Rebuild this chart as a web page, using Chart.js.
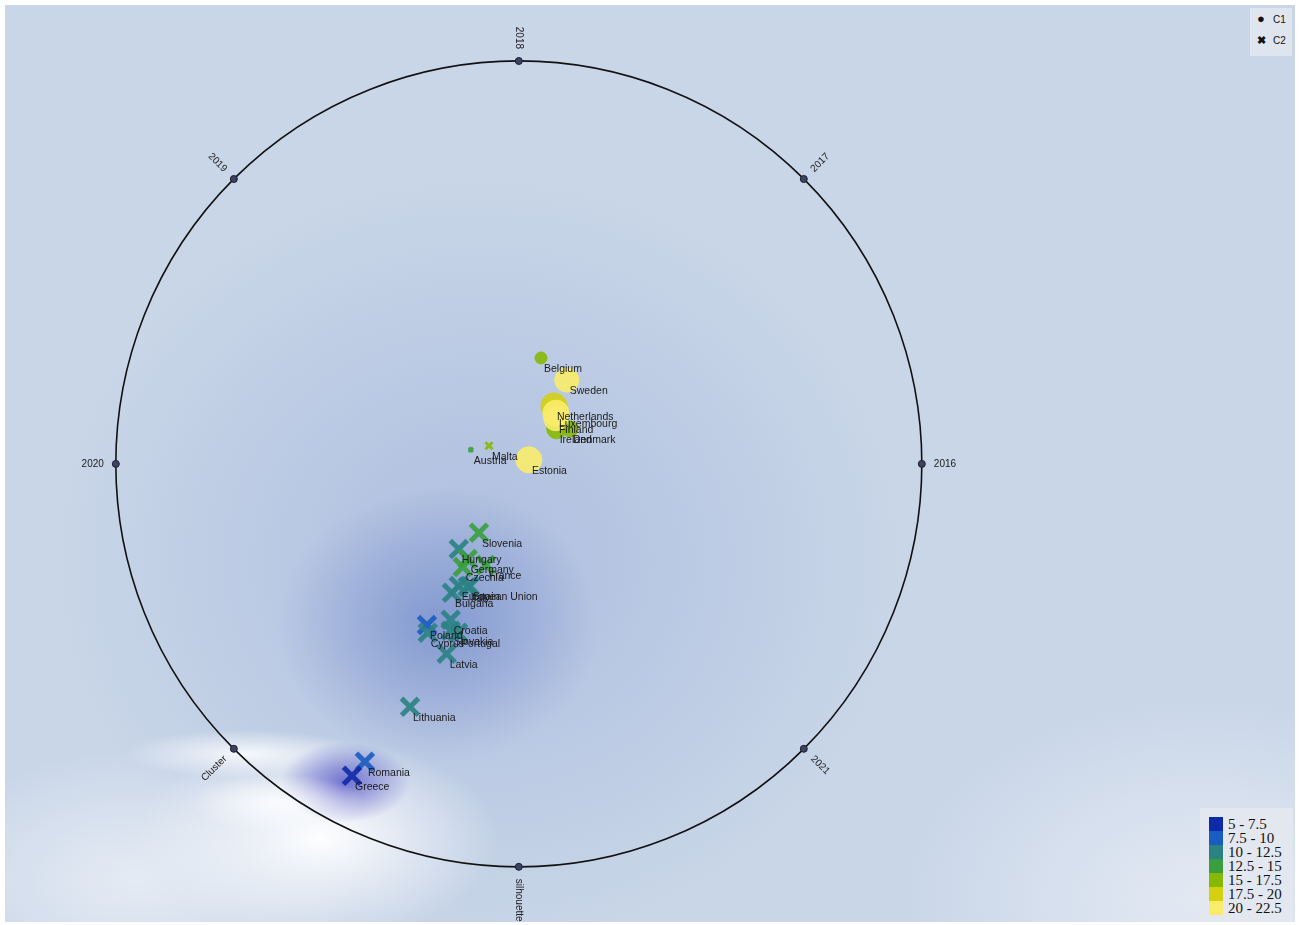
<!DOCTYPE html>
<html>
<head>
<meta charset="utf-8">
<script src="https://cdn.jsdelivr.net/npm/chart.js@4.4.1/dist/chart.umd.min.js"></script>
<style>
  body { margin: 0; background: #fff; font-family: "Liberation Sans", Arial, sans-serif; }
  #wrap { position: relative; width: 1300px; height: 925px; }
  #shapeLegend { position: absolute; left: 1250px; top: 8px; width: 42px; height: 48px;
    background: #dfe5ee; font-size: 10px; color: #111; }
  #shapeLegend div { position: absolute; left: 23px; }
  #shapeLegend span { position: absolute; font-size: 13px; line-height: 12px; }
  #binLegend { position: absolute; left: 1200px; top: 808px; width: 93px; height: 114px;
    background: #e3e8f0; }
  .row { position: absolute; left: 9px; height: 14px; display: flex; align-items: center; }
  .sw { width: 14px; height: 14px; margin-right: 5px; }
  .row span { font-family: "Liberation Serif", "DejaVu Serif", serif; font-size: 15px; color: #111; line-height: 14px; }
</style>
</head>
<body>
<div id="wrap">
  <canvas id="chart"></canvas>
  <div id="shapeLegend">
    <div style="top:6px"><span style="left:-16px;top:-1px">&#9679;</span>C1</div>
    <div style="top:27px"><span style="left:-16px;top:-1px;font-size:11px;font-weight:bold">&#10006;</span>C2</div>
  </div>
  <div id="binLegend"></div>
</div>
<script>
// ── Data ───────────────────────────────────────────────────────────
const anchorNames  = ['2016', '2017', '2018', '2019', '2020', 'Cluster', 'silhouette', '2021'];
const anchorAngles = [0, 45, 90, 135, 180, 225, 270, 315];

const binLabels = ['5 - 7.5', '7.5 - 10', '10 - 12.5', '12.5 - 15', '15 - 17.5', '17.5 - 20', '20 - 22.5'];
const binColors = ['#0f2aa6', '#1a5cbf', '#2a8283', '#3a9e3e', '#86b806', '#d5cf12', '#f9ec6a'];

// cluster C1 (circles)
const c1Names = ['Belgium', 'Sweden', 'Netherlands', 'Ireland', 'Denmark', 'Finland', 'Luxembourg', 'Estonia'];
const c1X     = [0.055, 0.119, 0.087, 0.094, 0.127, 0.092, 0.092, 0.025];
const c1Y     = [0.263, 0.208, 0.144, 0.087, 0.087, 0.112, 0.126, 0.010];
const c1Value = [16.0, 21.0, 19.0, 16.5, 16.0, 20.5, 21.0, 21.5];
const c1Size  = [6, 12, 13, 10, 8, 12, 13, 13];

// cluster C2 (crosses)
const c2Names = ['Austria', 'Malta', 'Slovenia', 'Hungary', 'Germany', 'France', 'Czechia',
  'European Union', 'Spain', 'Italy', 'Bulgaria', 'Croatia', 'Slovakia', 'Portugal',
  'Poland', 'Cyprus', 'Latvia', 'Lithuania', 'Romania', 'Greece'];
const c2X     = [-0.119, -0.074, -0.099, -0.149, -0.127, -0.082, -0.139,
  -0.149, -0.122, -0.127, -0.166, -0.169, -0.169, -0.151,
  -0.228, -0.226, -0.179, -0.270, -0.382, -0.414];
const c2Y     = [0.035, 0.045, -0.171, -0.211, -0.236, -0.251, -0.256,
  -0.303, -0.303, -0.305, -0.320, -0.387, -0.414, -0.419,
  -0.400, -0.419, -0.471, -0.603, -0.739, -0.774];
const c2Value = [13.5, 16.0, 14.0, 11.5, 13.5, 13.0, 14.5,
  11.5, 11.0, 11.0, 11.0, 11.0, 11.0, 10.5,
  8.5, 10.5, 11.0, 11.0, 8.5, 6.0];
const c2Size  = [3, 5, 12, 12, 12, 12, 12,
  12, 12, 12, 12, 12, 12, 12,
  12, 12, 12, 12, 12, 12];

// background shading blobs (unit coords, radii in units)
const blobX  = [-0.10, -0.20, -0.50, -0.68, -0.43, 1.70, -0.95, -0.60];
const blobY  = [-0.24, -0.40, -0.93, -0.72, -0.79, -1.08, -1.03, -0.84];
const blobRX = [1.05, 0.40, 0.45, 0.30, 0.16, 0.75, 0.55, 0.22];
const blobRY = [0.95, 0.34, 0.25, 0.06, 0.10, 0.50, 0.32, 0.07];
const blobC  = ['rgba(150,170,215,0.55)', 'rgba(105,130,200,0.65)', 'rgba(255,255,255,1)',
  'rgba(255,255,255,0.85)', 'rgba(75,75,195,0.75)', 'rgba(236,240,247,0.75)', 'rgba(238,242,248,0.75)',
  'rgba(255,255,255,0.8)'];

function binColor(v) {
  const i = Math.max(0, Math.min(binColors.length - 1, Math.floor((v - 5) / 2.5)));
  return binColors[i];
}
function alpha(hex, a) {
  const n = parseInt(hex.slice(1), 16);
  return `rgba(${n >> 16},${(n >> 8) & 255},${n & 255},${a})`;
}

// ── Bin legend ─────────────────────────────────────────────────────
document.getElementById('binLegend').innerHTML = binLabels.map((l, i) =>
  `<div class="row" style="top:${9 + i * 14}px"><div class="sw" style="background:${binColors[i]}"></div><span>${l}</span></div>`
).join('');

// ── Plugins ────────────────────────────────────────────────────────
const backdrop = {
  id: 'backdrop',
  beforeDatasetsDraw(chart) {
    const { ctx, chartArea: a, scales: { x, y } } = chart;
    const unit = x.getPixelForValue(1) - x.getPixelForValue(0);
    ctx.save();
    ctx.beginPath(); ctx.rect(a.left, a.top, a.width, a.height); ctx.clip();
    ctx.fillStyle = '#c9d6e8';
    ctx.fillRect(a.left, a.top, a.width, a.height);
    blobX.forEach((bx, i) => {
      const cx = x.getPixelForValue(bx), cy = y.getPixelForValue(blobY[i]);
      const rx = blobRX[i] * unit, ry = blobRY[i] * unit;
      ctx.save();
      ctx.translate(cx, cy); ctx.scale(1, ry / rx);
      const g = ctx.createRadialGradient(0, 0, 0, 0, 0, rx);
      g.addColorStop(0, blobC[i]);
      g.addColorStop(1, blobC[i].replace(/[\d.]+\)$/, '0)'));
      ctx.fillStyle = g;
      ctx.beginPath(); ctx.arc(0, 0, rx, 0, Math.PI * 2); ctx.fill();
      ctx.restore();
    });
    // unit circle
    ctx.strokeStyle = '#111';
    ctx.lineWidth = 1.6;
    ctx.beginPath();
    ctx.arc(x.getPixelForValue(0), y.getPixelForValue(0), unit, 0, Math.PI * 2);
    ctx.stroke();
    ctx.restore();
  }
};

const labels = {
  id: 'labels',
  afterDatasetsDraw(chart) {
    const { ctx } = chart;
    ctx.save();
    ctx.font = '10.5px "Liberation Sans", Arial, sans-serif';
    ctx.fillStyle = '#1b1b1b';
    ctx.textBaseline = 'middle';
    ctx.textAlign = 'left';
    [c1Names, c2Names].forEach((names, d) => {
      chart.getDatasetMeta(d).data.forEach((p, i) => ctx.fillText(names[i], p.x + 3, p.y + 11));
    });
    // anchor labels
    ctx.font = '10px "Liberation Sans", Arial, sans-serif';
    chart.getDatasetMeta(2).data.forEach((p, i) => {
      const th = anchorAngles[i] * Math.PI / 180;
      const w = ctx.measureText(anchorNames[i]).width;
      const d = 12 + w / 2;
      const lx = p.x + Math.cos(th) * d, ly = p.y - Math.sin(th) * d;
      let r = ((-anchorAngles[i] % 180) + 180) % 180;
      if (r > 90) r -= 180;
      ctx.save();
      ctx.translate(lx, ly); ctx.rotate(r * Math.PI / 180);
      ctx.textAlign = 'center';
      ctx.fillText(anchorNames[i], 0, 0);
      ctx.restore();
    });
    ctx.restore();
  }
};

// ── Chart ──────────────────────────────────────────────────────────
const c1Col = c1Value.map(binColor);
const c2Col = c2Value.map(binColor);

new Chart(document.getElementById('chart'), {
  type: 'scatter',
  data: {
    datasets: [
      { label: 'C1', data: c1X.map((v, i) => ({ x: v, y: c1Y[i] })),
        pointStyle: 'circle', pointRadius: c1Size,
        backgroundColor: c1Col.map(c => alpha(c, 0.9)), borderColor: c1Col.map(c => alpha(c, 0.9)),
        borderWidth: 1, order: 2 },
      { label: 'C2', data: c2X.map((v, i) => ({ x: v, y: c2Y[i] })),
        pointStyle: 'crossRot', pointRadius: c2Size,
        backgroundColor: c2Col.map(c => alpha(c, 0.9)), borderColor: c2Col.map(c => alpha(c, 0.9)),
        borderWidth: c2Size.map(s => s > 6 ? 5 : 3), order: 1 },
      { label: 'anchors', data: anchorAngles.map(a => ({ x: Math.cos(a * Math.PI / 180), y: Math.sin(a * Math.PI / 180) })),
        pointStyle: 'circle', pointRadius: 3.5,
        backgroundColor: '#3c4260', borderColor: '#1c1f2e', borderWidth: 1, order: 0 }
    ]
  },
  options: {
    responsive: true, maintainAspectRatio: false, animation: false,
    devicePixelRatio: 1,
    layout: { autoPadding: false, padding: { left: 5, top: 5, right: 5, bottom: 3 } },
    plugins: { legend: { display: false }, tooltip: { enabled: false } },
    scales: {
      x: { display: false, min: -1.275, max: 1.926 },
      y: { display: false, min: -1.137, max: 1.139 }
    }
  },
  plugins: [backdrop, labels]
});
</script>
</body>
</html>
